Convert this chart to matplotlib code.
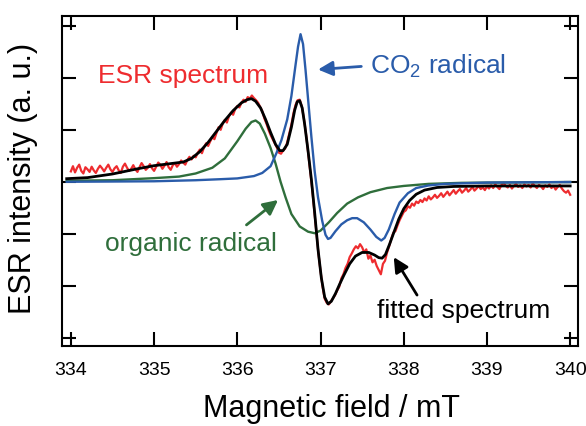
import numpy as np
import matplotlib
matplotlib.use("Agg")
import matplotlib.pyplot as plt

plt.rcParams["font.family"] = ["Liberation Sans", "DejaVu Sans"]
plt.rcParams["mathtext.default"] = "regular"

# CO2 radical component (field in mT, intensity)
co2_field = [333.95, 334.5, 335.0, 335.5, 335.8, 336.0, 336.2, 336.3, 336.4, 336.47,
             336.53, 336.6, 336.65, 336.7, 336.73, 336.76, 336.79, 336.82, 336.85, 336.89,
             336.93, 336.97, 337.02, 337.06, 337.09, 337.12, 337.18, 337.25, 337.32, 337.38,
             337.44, 337.52, 337.6, 337.67, 337.73, 337.77, 337.82, 337.89, 337.95, 338.05,
             338.15, 338.3, 338.5, 339.0, 339.5, 340.0]
co2_int = [0.0, 0.005, 0.01, 0.03, 0.05, 0.065, 0.11, 0.17, 0.3, 0.55,
           0.8, 1.2, 1.65, 2.25, 2.6, 2.84, 2.65, 2.15, 1.6, 0.87,
           0.2, -0.3, -0.75, -1.02, -1.1, -1.08, -0.95, -0.82, -0.74, -0.70,
           -0.70, -0.78, -0.92, -1.06, -1.13, -1.08, -0.92, -0.62, -0.40, -0.22,
           -0.12, -0.07, -0.04, -0.015, -0.01, -0.005]

# organic radical component
org_field = [333.95, 334.5, 335.0, 335.3, 335.5, 335.7, 335.85, 336.0, 336.1, 336.17,
             336.22, 336.27, 336.33, 336.4, 336.46, 336.52, 336.58, 336.65, 336.75, 336.85,
             336.93, 337.0, 337.1, 337.2, 337.32, 337.45, 337.6, 337.8, 338.0, 338.3,
             338.7, 339.5, 340.0]
org_int = [0.02, 0.03, 0.07, 0.1, 0.16, 0.27, 0.45, 0.78, 1.02, 1.15,
           1.18, 1.12, 0.93, 0.65, 0.35, 0.0, -0.3, -0.62, -0.86, -0.96,
           -0.99, -0.94, -0.78, -0.6, -0.42, -0.3, -0.2, -0.12, -0.08, -0.04,
           -0.02, -0.01, -0.005]

# fitted spectrum
fit_field = [333.95, 334.2, 334.5, 334.8, 335.0, 335.2, 335.35, 335.45, 335.55, 335.65,
             335.75, 335.85, 335.95, 336.05, 336.12, 336.17, 336.22, 336.28, 336.34, 336.4,
             336.46, 336.51, 336.55, 336.6, 336.65, 336.69, 336.72, 336.75, 336.78, 336.81,
             336.85, 336.89, 336.93, 336.97, 337.01, 337.05, 337.09, 337.13, 337.18, 337.23,
             337.28, 337.35, 337.42, 337.5, 337.58, 337.65, 337.7, 337.74, 337.78, 337.83,
             337.88, 337.94, 338.0, 338.07, 338.15, 338.25, 338.4, 338.6, 339.0, 339.5,
             340.0]
fit_int = [0.06, 0.08, 0.15, 0.25, 0.31, 0.35, 0.38, 0.45, 0.58, 0.76,
           0.97, 1.18, 1.37, 1.52, 1.58, 1.6, 1.55, 1.42, 1.2, 0.95,
           0.72, 0.6, 0.6, 0.72, 1.05, 1.38, 1.54, 1.56, 1.42, 1.1,
           0.6, 0.05, -0.6, -1.3, -1.85, -2.22, -2.35, -2.3, -2.15, -1.97,
           -1.8, -1.58, -1.43, -1.36, -1.36, -1.41, -1.46, -1.47, -1.4, -1.2,
           -0.98, -0.72, -0.52, -0.36, -0.24, -0.16, -0.11, -0.09, -0.08, -0.08,
           -0.08]

# measured ESR spectrum, 334 to 340 mT in 0.025 mT steps
esr_int = [
    0.20, 0.30, 0.18, 0.27, 0.33, 0.21, 0.16, 0.28, 0.24, 0.19,
    0.29, 0.22, 0.17, 0.25, 0.31, 0.26, 0.20, 0.27, 0.33, 0.24,
    0.19, 0.26, 0.30, 0.22, 0.17, 0.29, 0.35, 0.27, 0.21, 0.25,
    0.32, 0.24, 0.19, 0.28, 0.36, 0.30, 0.23, 0.27, 0.34, 0.26,
    0.21, 0.29, 0.37, 0.33, 0.25, 0.31, 0.38, 0.28, 0.23, 0.32,
    0.36, 0.29, 0.34, 0.41, 0.37, 0.33, 0.42, 0.48, 0.43, 0.50,
    0.47, 0.56, 0.62, 0.55, 0.66, 0.74, 0.69, 0.78, 0.86, 0.82,
    0.94, 1.05, 1.00, 1.12, 1.19, 1.14, 1.26, 1.33, 1.29, 1.40,
    1.46, 1.43, 1.52, 1.58, 1.54, 1.63, 1.60, 1.66, 1.61, 1.57,
    1.52, 1.44, 1.36, 1.22, 1.12, 1.00, 0.90, 0.82, 0.74, 0.66,
    0.56, 0.54, 0.60, 0.64, 0.76, 0.93, 1.10, 1.32, 1.48, 1.57,
    1.58, 1.45, 1.22, 0.93, 0.58, 0.22, -0.14, -0.55, -0.98, -1.38,
    -1.72, -2.02, -2.25, -2.33, -2.36, -2.30, -2.24, -2.18, -2.09, -2.02,
    -1.86, -1.78, -1.66, -1.58, -1.45, -1.38, -1.30, -1.24, -1.28, -1.20,
    -1.26, -1.36, -1.30, -1.48, -1.42, -1.55, -1.50, -1.62, -1.70, -1.78,
    -1.58, -1.52, -1.36, -1.24, -1.10, -0.98, -0.95, -0.84, -0.74, -0.66,
    -0.58, -0.55, -0.47, -0.50, -0.42, -0.46, -0.38, -0.41, -0.35, -0.39,
    -0.32, -0.36, -0.28, -0.34, -0.30, -0.25, -0.31, -0.27, -0.22, -0.29,
    -0.24, -0.19, -0.26, -0.21, -0.16, -0.23, -0.18, -0.14, -0.21, -0.17,
    -0.12, -0.19, -0.15, -0.10, -0.17, -0.13, -0.08, -0.14, -0.11, -0.16,
    -0.09, -0.13, -0.07, -0.12, -0.05, -0.10, -0.14, -0.06, -0.02, -0.08,
    -0.11, -0.06, -0.13, -0.08, -0.04, -0.10, -0.07, -0.12, -0.05, -0.09,
    -0.06, -0.11, -0.03, -0.08, -0.12, -0.06, -0.09, -0.14, -0.07, -0.10,
    -0.05, -0.12, -0.08, -0.15, -0.10, -0.06, -0.13, -0.18, -0.21, -0.17,
    -0.25,
]
esr_field = np.linspace(334, 340, len(esr_int))

x_ticks = [334, 335, 336, 337, 338, 339, 340]

RED = "#ee2c2f"
BLUE = "#2a5caa"
GREEN = "#2f6e3b"

fig = plt.figure(figsize=(5.86, 4.26), dpi=100)
ax = fig.add_axes([0.1053, 0.1878, 0.8819, 0.7746])

ax.plot(esr_field, esr_int, color=RED, lw=1.6)
ax.plot(org_field, org_int, color=GREEN, lw=1.7)
ax.plot(co2_field, co2_int, color=BLUE, lw=1.7)
ax.plot(fit_field, fit_int, color="black", lw=2.0)

ax.set_xlim(333.89, 340.10)
ax.set_ylim(-3.16, 3.19)
ax.set_xticks(x_ticks)
ax.set_yticks([-3, -2, -1, 0, 1, 2, 3])
ax.set_yticklabels([])
ax.tick_params(direction="in", length=10, width=1.5, top=True, right=True,
               labelsize=14, pad=11.5)
for s in ax.spines.values():
    s.set_linewidth(1.5)

ax.text(334.325, 1.90, "ESR spectrum", color=RED, fontsize=19, va="baseline")
ax.text(337.60, 2.07, "CO$_2$ radical", color=BLUE, fontsize=19, va="baseline")
ax.text(334.41, -1.33, "organic radical", color=GREEN, fontsize=19, va="baseline")
ax.text(337.68, -2.63, "fitted spectrum", color="black", fontsize=19, va="baseline")

arrow = dict(arrowstyle="-|>", lw=2, mutation_scale=22, shrinkA=0, shrinkB=0)
ax.annotate("", xy=(336.97, 2.16), xytext=(337.49, 2.22),
            arrowprops=dict(arrow, color=BLUE))
ax.annotate("", xy=(336.49, -0.35), xytext=(336.11, -0.83),
            arrowprops=dict(arrow, color=GREEN))
ax.annotate("", xy=(337.88, -1.45), xytext=(338.16, -2.18),
            arrowprops=dict(arrow, color="black"))

fig.text(23.5 / 586, 1 - 178 / 426, "ESR intensity (a. u.)", rotation=90,
         fontsize=22, ha="center", va="center")
fig.text(331.5 / 586, 1 - 417 / 426, "Magnetic field / mT", fontsize=22,
         ha="center", va="baseline")

fig.savefig("out.png", dpi=100)
